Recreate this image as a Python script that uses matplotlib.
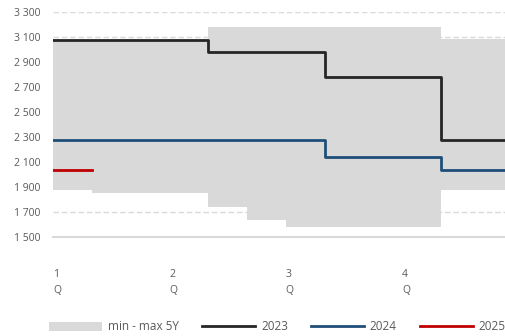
import numpy as np
import matplotlib
matplotlib.use('Agg')
import matplotlib.pyplot as plt
from matplotlib.patches import Patch
from matplotlib.lines import Line2D
from matplotlib.ticker import FuncFormatter

# miesięczne wartości (12 miesięcy)
months = np.arange(12)
band_min = [1880, 1850, 1850, 1850, 1740, 1640, 1580, 1580, 1580, 1580, 1880, 1880]
band_max = [3085, 3085, 3085, 3085, 3180, 3180, 3180, 3180, 3180, 3180, 3085, 3085]
y2023 = [3080, 3080, 3080, 3080, 2980, 2980, 2980, 2780, 2780, 2780, 2280, 2280]
y2024 = [2280, 2280, 2280, 2280, 2280, 2280, 2280, 2140, 2140, 2140, 2040, 2040]
y2025 = [2040]
quarter_labels = ['1\nQ', '2\nQ', '3\nQ', '4\nQ']
quarter_pos = [0, 3, 6, 9]
y_ticks = [1500, 1700, 1900, 2100, 2300, 2500, 2700, 2900, 3100, 3300]


def steps(vals):
    # dodaj punkt końcowy, żeby ostatni miesiąc był narysowany w całości
    x = np.arange(len(vals) + 1)
    return x, list(vals) + [vals[-1]]


plt.rcParams['font.family'] = ['Open Sans', 'DejaVu Sans']
grey_txt = '#595959'

fig = plt.figure(figsize=(5.05, 3.36), dpi=100)
ax = fig.add_axes([53 / 505, 99 / 336, 452 / 505, 225 / 336])

ax.set_ylim(1500, 3300)
ax.set_xlim(0, 452 / 38.8)
ax.set_yticks(y_ticks)
ax.yaxis.set_major_formatter(FuncFormatter(lambda v, p: f'{int(v):,}'.replace(',', ' ')))
ax.set_xticks(quarter_pos)
ax.set_xticklabels(quarter_labels, linespacing=1.6)
ax.tick_params(axis='both', length=0, labelsize=7.5, colors=grey_txt)
ax.tick_params(axis='y', pad=9)
ax.tick_params(axis='x', pad=23)
for lab in ax.get_xticklabels():
    lab.set_horizontalalignment('left')

for s in ax.spines.values():
    s.set_visible(False)
ax.grid(axis='y', color='#d9d9d9', linestyle=(0, (4, 2)), linewidth=1.0, zorder=0)
ax.axhline(1500, color='#d9d9d9', linewidth=1.5, zorder=1, clip_on=False)

xb, ymin = steps(band_min)
_, ymax = steps(band_max)
ax.fill_between(xb, ymin, ymax, step='post', color='#d9d9d9', linewidth=0, zorder=2)

for vals, col in [(y2023, '#262626'), (y2024, '#1f4e79'), (y2025, '#c00000')]:
    x, y = steps(vals)
    ax.plot(x, y, drawstyle='steps-post', color=col, linewidth=2.0, zorder=3)

handles = [Patch(facecolor='#d9d9d9', edgecolor='none'),
           Line2D([], [], color='#262626', linewidth=2.0),
           Line2D([], [], color='#1f4e79', linewidth=2.0),
           Line2D([], [], color='#c00000', linewidth=2.0)]
fig.legend(handles, ['min - max 5Y', '2023', '2024', '2025'], ncol=4,
           loc='center left', bbox_to_anchor=(49 / 505, 1 - 327 / 336),
           frameon=False, fontsize=8.5, labelcolor=grey_txt,
           handlelength=4.5, handleheight=0.85, handletextpad=0.5,
           columnspacing=1.95, borderpad=0, borderaxespad=0)

fig.savefig('out.png', dpi=100)
